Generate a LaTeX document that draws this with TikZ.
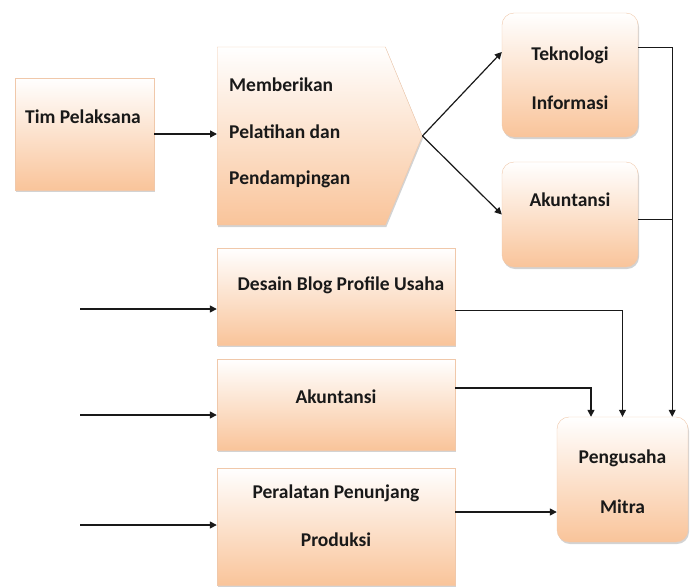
\documentclass[tikz,border=0pt]{standalone}
\usepackage{fontspec}
\setmainfont{Carlito}
\usepackage{tikz}
\usetikzlibrary{arrows.meta,shapes.symbols,shadows}
\definecolor{Peach}{RGB}{249,196,154}
\definecolor{PeachLine}{RGB}{240,200,170}
\definecolor{Ink}{RGB}{25,25,25}

\begin{document}
\begin{tikzpicture}[x=1pt, y=-1pt,
	box/.style={draw=PeachLine, top color=white, bottom color=Peach, inner sep=0pt,
		drop shadow={shadow xshift=1pt, shadow yshift=-2pt, opacity=0.35}},
	txt/.style={text=Ink, inner sep=0pt, font=\fontsize{19.5}{22}\selectfont\bfseries},
	arr/.style={Ink, line width=1.5pt, -{Triangle[length=7pt,width=7pt]}},
	wire/.style={Ink, line width=1pt}]
	\useasboundingbox (0,0) rectangle (690,587);
	% top row
	\node[box, minimum width=139pt, minimum height=112pt] (tim) at (84.5,134) {};
	\node[box, signal, signal to=east, signal pointer angle=135, minimum width=205pt,
		minimum height=178pt, anchor=west] (mem) at (217,136) {};
	\node[box, rounded corners=12pt, minimum width=136pt, minimum height=124pt] (tek) at (570,75) {};
	\node[box, rounded corners=12pt, minimum width=136pt, minimum height=105pt] (ak1) at (570,214.5) {};
	% lower boxes
	\node[box, minimum width=238pt, minimum height=97pt] (des) at (336,296.5) {};
	\node[box, minimum width=238pt, minimum height=91pt] (ak2) at (336,404.5) {};
	\node[box, minimum width=238pt, minimum height=117pt] (per) at (336,526.5) {};
	\node[box, rounded corners=12pt, minimum width=131pt, minimum height=125pt] (pm) at (622.5,479.5) {};
	% texts
	\node[txt] (timT) at (83,117) {Tim Pelaksana};
	\node[txt, anchor=west] (memT1) at (229,85) {Memberikan};
	\node[txt, anchor=west] (memT2) at (229,132) {Pelatihan dan};
	\node[txt, anchor=west] (memT3) at (229,179) {Pendampingan};
	\node[txt] (tekT1) at (570,55) {Teknologi};
	\node[txt] (tekT2) at (570,103) {Informasi};
	\node[txt] (ak1T) at (570,200) {Akuntansi};
	\node[txt] (desT) at (341,285) {Desain Blog Profile Usaha};
	\node[txt] (ak2T) at (336,397) {Akuntansi};
	\node[txt] (perT1) at (336,493) {Peralatan Penunjang};
	\node[txt] (perT2) at (336,540) {Produksi};
	\node[txt] (pmT1) at (622.5,458) {Pengusaha};
	\node[txt] (pmT2) at (622.5,507) {Mitra};
	% inputs
	\coordinate (in1) at (80,309);
	\coordinate (in2) at (80,415);
	\coordinate (in3) at (80,525);
	\draw[arr] (in1) -- (in1 -| des.west);
	\draw[arr] (in2) -- (in2 -| ak2.west);
	\draw[arr] (in3) -- (in3 -| per.west);
	% flow
	\draw[arr] (tim.east) -- (tim.east -| mem.west);
	\draw[arr, line width=1.2pt] (mem.east) -- ([yshift=23pt]tek.west);
	\draw[arr, line width=1.2pt] (mem.east) -- (ak1.west);
	\draw[wire] ([yshift=28pt]tek.east) -- ++(34,0) coordinate (bus);
	\draw[wire] ([yshift=-5pt]ak1.east) coordinate (a1) -- (a1 -| bus);
	\draw[wire, -{Triangle[length=7pt,width=7pt]}] (bus) -- (bus |- pm.north);
	\draw[wire, -{Triangle[length=7pt,width=7pt]}] ([yshift=-13.5pt]des.east) -| (pm.north);
	\draw[wire, line width=1.5pt, -{Triangle[length=7pt,width=7pt]}] ([yshift=16.5pt]ak2.east) -| ([xshift=-31.5pt]pm.north);
	\draw[arr] ([yshift=14.5pt]per.east) coordinate (pe) -- (pe -| pm.west);
\end{tikzpicture}
\end{document}
